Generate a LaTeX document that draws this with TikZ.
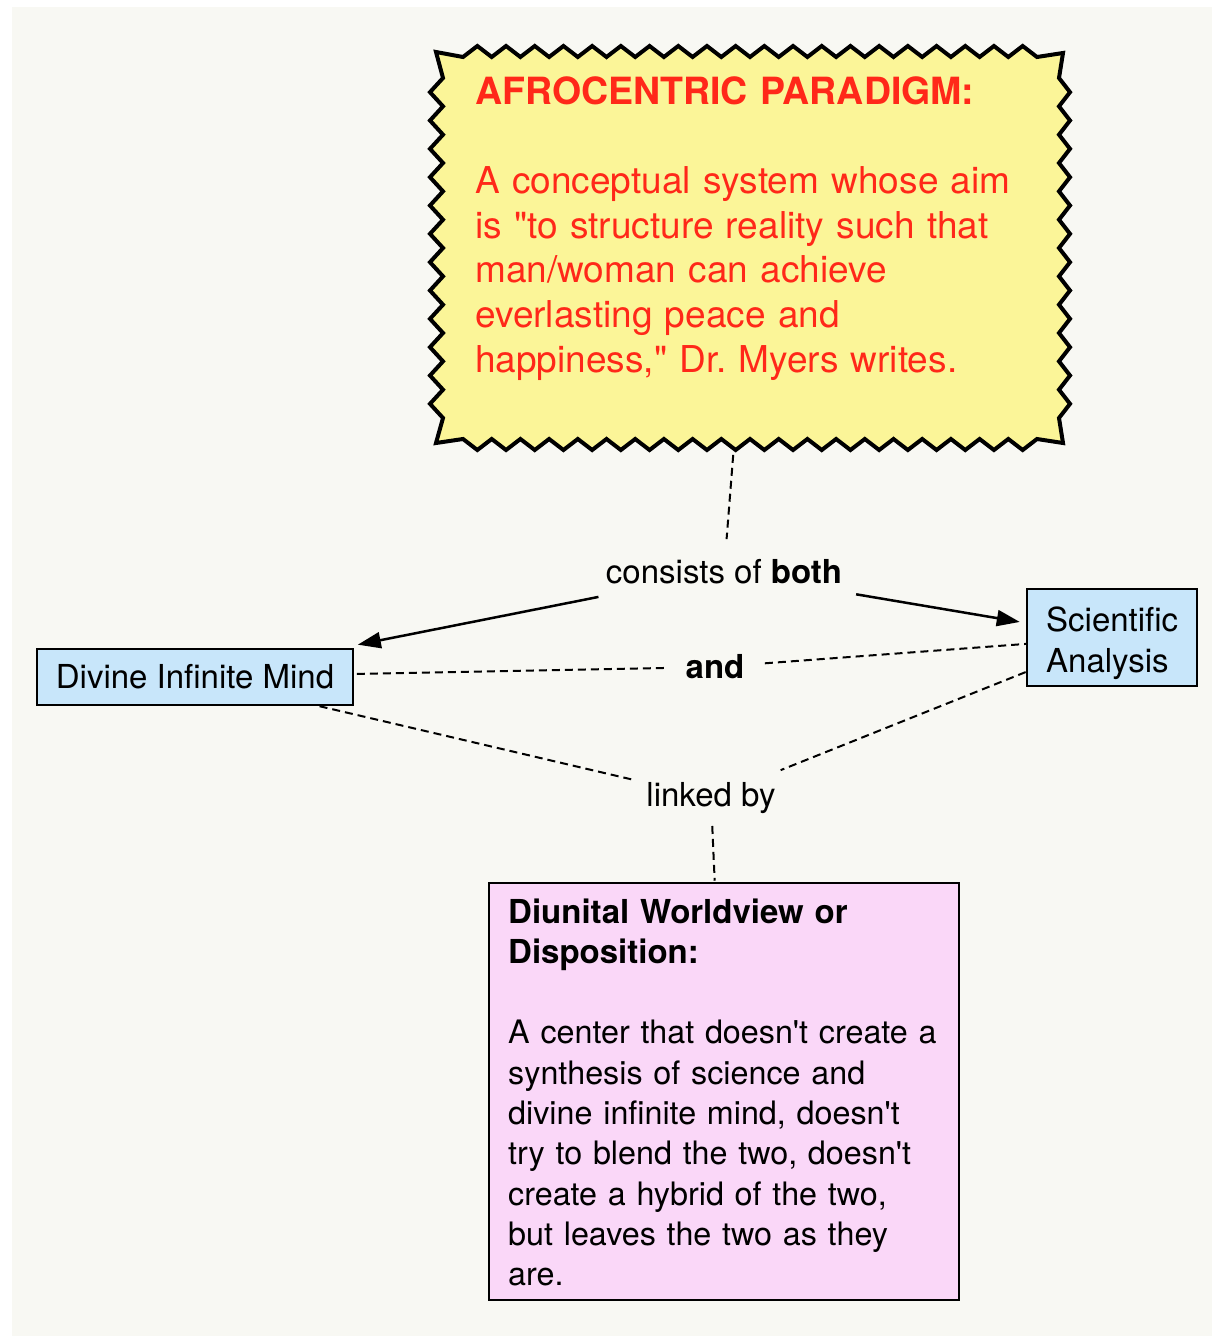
\documentclass[tikz,border=0pt]{standalone}
\usepackage{fontspec}
\setmainfont{TeX Gyre Heros}[Ligatures={TeXOff,NoCommon}]
\usetikzlibrary{arrows.meta,calc}
\definecolor{bgc}{RGB}{248,248,243}
\definecolor{yel}{RGB}{251,245,152}
\definecolor{redt}{RGB}{255,40,25}
\definecolor{bluef}{RGB}{200,230,250}
\definecolor{pinkf}{RGB}{250,215,248}
\newcommand\smallfnt{\fontsize{33}{40.3}\selectfont}
\newcommand\bodyfnt{\fontsize{32.3}{40.3}\selectfont}
\newcommand\bigfnt{\fontsize{37}{44.7}\selectfont}
\frenchspacing
\begin{document}
\begin{tikzpicture}[x=1pt,y=-1pt,
  bluebox/.style={draw=black, line width=2, fill=bluef, font=\smallfnt, inner sep=0},
  pinkbox/.style={draw=black, line width=2, fill=pinkf, inner sep=0},
  lbl/.style={font=\smallfnt, inner sep=0},
  dashline/.style={line width=2, dash pattern=on 8pt off 5pt},
  arrowline/.style={line width=2.5, -{Triangle[length=23pt,width=16pt]}},
  zig/.style={draw=black, fill=yel, line width=4, line join=miter}
]
\useasboundingbox (0,0) rectangle (1212,1336);
\fill[bgc] (12,7) rectangle (1212,1336);

% jagged yellow box
\path[zig] (436,52)
  \foreach \i in {0,...,19} { -- ({463+\i*28.7},57) -- ({463+(\i+0.5)*28.7},46) }
  -- (1037,57) -- (1063,53)
  \foreach \i in {0,...,11} { -- (1059,{78+\i*28.333}) -- (1070,{78+(\i+0.5)*28.333}) }
  -- (1059,418) -- (1063,443)
  \foreach \i in {0,...,19} { -- ({1037-\i*28.7},439) -- ({1037-(\i+0.5)*28.7},450) }
  -- (463,439) -- (436,443)
  \foreach \i in {0,...,11} { -- (443,{418-\i*28.333}) -- (430,{418-(\i+0.5)*28.333}) }
  -- (443,78) -- cycle;
\node[minimum width=626, minimum height=391, inner sep=0] (para) at (749.5,247.5) {};
\node[anchor=base west, text width=600, align=left, inner sep=0, font=\bigfnt, text=redt] (paratext) at (475,104)
  {\textbf{\fontsize{37.5}{44.7}\selectfont AFROCENTRIC PARADIGM:}\\\mbox{}\\A conceptual system whose aim\\is "to structure reality such that\\man/woman can achieve\\everlasting peace and\\happiness," Dr. Myers writes.};

% concept boxes
\node[bluebox, minimum width=316, minimum height=56] (divine) at (195,677) {Divine Infinite Mind};
\node[bluebox, minimum width=170, minimum height=97] (sci) at (1112,637.5) {};
\node[anchor=base west, text width=150, align=left, inner sep=0, font=\fontsize{33}{41}\selectfont] (scitext) at (1046,631) {Scientific\\Analysis};
\node[pinkbox, minimum width=470, minimum height=417] (diun) at (724,1091.5) {};
\node[anchor=base west, text width=445, align=left, inner sep=0, font=\bodyfnt] (diuntext) at (508,923)
  {\textbf{\smallfnt Diunital Worldview or}\\\textbf{\smallfnt Disposition:}\\\mbox{}\\A center that doesn't create a\\synthesis of science and\\divine infinite mind, doesn't\\try to blend the two, doesn't\\create a hybrid of the two,\\but leaves the two as they\\are.};

% linking phrases
\node[lbl] (consists) at (724,572) {consists of \textbf{both}};
\node[lbl] (and) at (715,667) {\textbf{and}};
\node[lbl] (linked) at (711,798) {linked by};

% connectors
\draw[dashline] ($(para)!208pt!(consists)$) -- ($(consists)!33pt!(para)$);
\draw[arrowline] ($(consists)!128pt!(divine)$) -- ($(divine)!166pt!(consists)$);
\draw[arrowline] ($(consists)!134pt!(sci)$) -- ($(sci)!93.5pt!(consists)$);
\draw[dashline] ($(divine)!162pt!(and)$) -- ($(and)!47pt!(divine)$);
\draw[dashline] ($(and)!50pt!(sci)$) -- ($(sci)!86pt!(and)$);
\draw[dashline] ($(divine)!128pt!(linked)$) -- ($(linked)!82pt!(divine)$);
\draw[dashline] ($(sci)!93pt!(linked)$) -- ($(linked)!75pt!(sci)$);
\draw[dashline] ($(linked)!28pt!(diun)$) -- ($(diun)!211pt!(linked)$);
\end{tikzpicture}
\end{document}
